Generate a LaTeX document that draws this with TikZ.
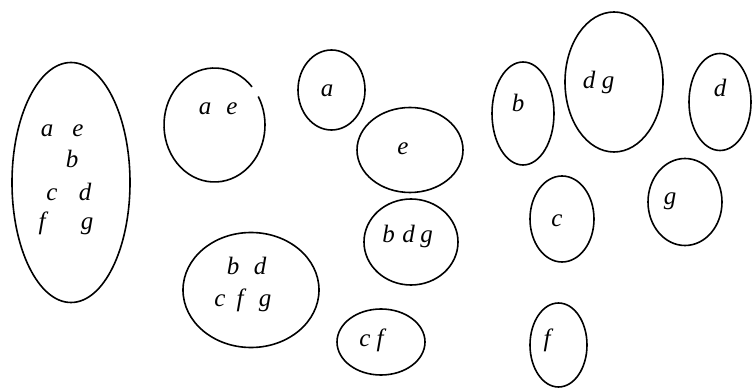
\documentclass[tikz,border=0pt]{standalone}
\usepackage{fontspec}
\setmainfont{Liberation Serif}
\usetikzlibrary{shapes.geometric}
\begin{document}
\begin{tikzpicture}[x=1pt,y=1pt,
  set/.style={draw,ellipse,line width=1.6pt,inner sep=0pt,minimum width=#1},
  el/.style={anchor=base,inner sep=0pt,font=\fontsize{25}{30}\selectfont\itshape}]
\useasboundingbox (0,0) rectangle (752,388);
% big left set
\node[set=118pt,minimum height=240pt] (s1) at (71,205.5) {};
\node[el] (s1a) at (47,251) {a};
\node[el] (s1e) at (78,251) {e};
\node[el] (s1b) at (72,220) {b};
\node[el] (s1c) at (52,187) {c};
\node[el] (s1d) at (85,187) {d};
\node[el] (s1f) at (42,158) {f};
\node[el] (s1g) at (87,158) {g};
% a e set with a gap
\coordinate (s2) at (214.5,263);
\draw[line width=1.6pt] (s2) ++(42:50.5 and 57) arc[start angle=42,end angle=390,x radius=50.5,y radius=57];
\node[el] (s2a) at (205,273) {a};
\node[el] (s2e) at (232,273) {e};
% b d / c f g
\node[set=136pt,minimum height=115pt] (s3) at (251,98) {};
\node[el] (s3b) at (233,113) {b};
\node[el] (s3d) at (260,113) {d};
\node[el] (s3c) at (220,81) {c};
\node[el] (s3f) at (240,81) {f};
\node[el] (s3g) at (265,81) {g};
% a
\node[set=67pt,minimum height=80pt] (s4) at (331.5,298) {};
\node[el] (s4a) at (327,291) {a};
% e
\node[set=106pt,minimum height=85pt] (s5) at (410,238) {};
\node[el] (s5e) at (403,233) {e};
% b d g
\node[set=94pt,minimum height=86pt] (s6) at (411,146) {};
\node[el] (s6b) at (388.5,145) {b};
\node[el] (s6d) at (408.5,145) {d};
\node[el] (s6g) at (426.5,145) {g};
% c f
\node[set=88pt,minimum height=66pt] (s7) at (381,46) {};
\node[el] (s7c) at (365,41) {c};
\node[el] (s7f) at (380,41) {f};
% right side
\node[set=62pt,minimum height=103pt] (s8) at (523,274.5) {};
\node[el] (s8b) at (518,276) {b};
\node[set=98pt,minimum height=140pt] (s9) at (614,306) {};
\node[el] (s9d) at (589,299) {d};
\node[el] (s9g) at (608,299) {g};
\node[set=62pt,minimum height=97pt] (s10) at (720,286) {};
\node[el] (s10d) at (720,291) {d};
\node[set=74pt,minimum height=87pt] (s11) at (685,186) {};
\node[el] (s11g) at (670,183) {g};
\node[set=64pt,minimum height=86pt] (s12) at (562,169) {};
\node[el] (s12c) at (557,161) {c};
\node[set=57pt,minimum height=84pt] (s13) at (558.5,43) {};
\node[el] (s13f) at (547,41) {f};
\end{tikzpicture}
\end{document}
